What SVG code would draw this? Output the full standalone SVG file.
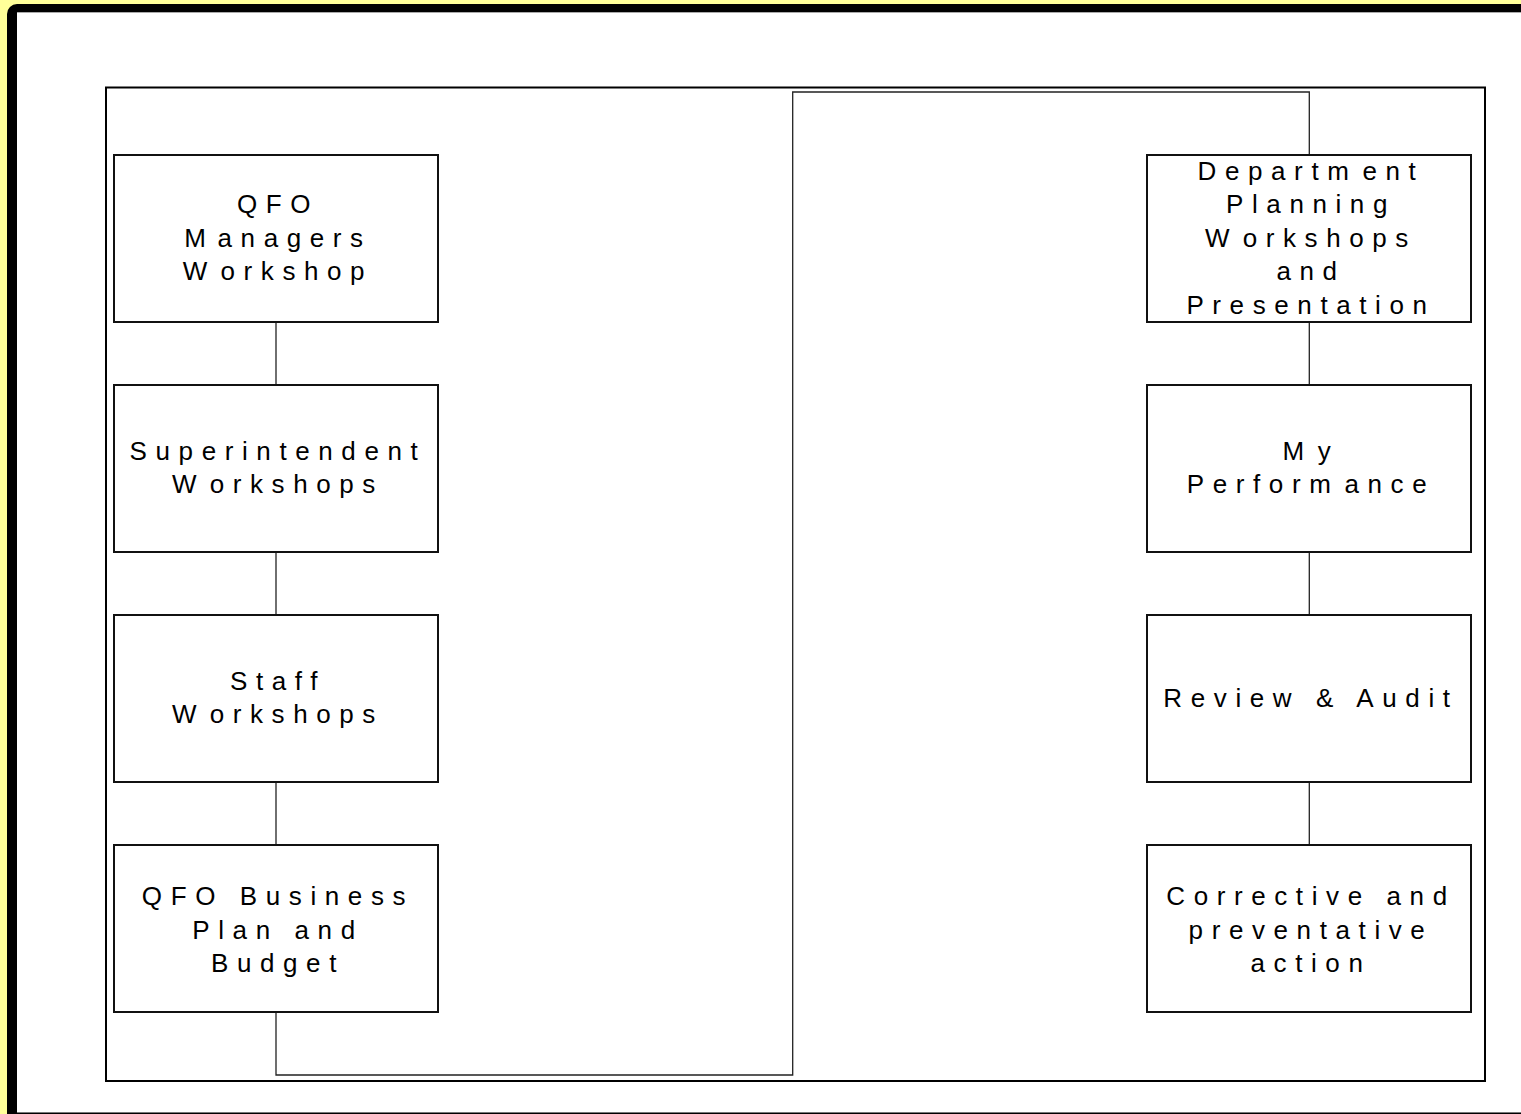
<svg xmlns="http://www.w3.org/2000/svg" width="1521" height="1114" viewBox="0 0 1521 1114">
<style>
.box{fill:#fff;stroke:#111;stroke-width:2}
.lbl{font-family:"Liberation Sans",Arial,sans-serif;font-size:26px;letter-spacing:8.6px;fill:#000;text-anchor:middle}
.conn{fill:none;stroke:#222;stroke-width:1.3}
</style>
<rect x="0" y="0" width="1521" height="1114" fill="#ffff99"/>
<rect x="7" y="4" width="1600" height="1200" rx="10" fill="#000"/>
<rect x="17" y="12" width="1510" height="1100" fill="#fff"/>
<line x1="17" y1="12.5" x2="1521" y2="12.5" stroke="#aaa" stroke-width="1"/>
<line x1="17" y1="1112.5" x2="1521" y2="1112.5" stroke="#777" stroke-width="1.2"/>
<rect x="106" y="87.5" width="1379" height="993.5" fill="none" stroke="#000" stroke-width="2"/>
<g id="connectors">
<path class="conn" d="M276 1012 V1075 H792.7 V92 H1309.3 V155"/>
<line class="conn" x1="276" y1="322" x2="276" y2="385"/>
<line class="conn" x1="276" y1="552" x2="276" y2="615"/>
<line class="conn" x1="276" y1="782" x2="276" y2="845"/>
<line class="conn" x1="1309.3" y1="322" x2="1309.3" y2="385"/>
<line class="conn" x1="1309.3" y1="552" x2="1309.3" y2="615"/>
<line class="conn" x1="1309.3" y1="782" x2="1309.3" y2="845"/>
</g>
<g id="n1">
<rect class="box" x="114" y="155" width="324" height="167"/>
<text class="lbl" x="278" y="213">QFO</text>
<text class="lbl" x="278" y="246.5"><tspan>M</tspan><tspan dx="3">anagers</tspan></text>
<text class="lbl" x="278" y="280"><tspan>W</tspan><tspan dx="5">orkshop</tspan></text>
</g>
<g id="n2">
<rect class="box" x="114" y="385" width="324" height="167"/>
<text class="lbl" x="278" y="459.8">Superintendent</text>
<text class="lbl" x="278" y="493.3"><tspan>W</tspan><tspan dx="5">orkshops</tspan></text>
</g>
<g id="n3">
<rect class="box" x="114" y="615" width="324" height="167"/>
<text class="lbl" x="278" y="689.8">Staff</text>
<text class="lbl" x="278" y="723.3"><tspan>W</tspan><tspan dx="5">orkshops</tspan></text>
</g>
<g id="n4">
<rect class="box" x="114" y="845" width="324" height="167"/>
<text class="lbl" x="278" y="905">QFO Business</text>
<text class="lbl" x="278" y="938.5">Plan and</text>
<text class="lbl" x="278" y="972">Budget</text>
</g>
<g id="n5">
<rect class="box" x="1147" y="155" width="324" height="167"/>
<text class="lbl" x="1311" y="179.5"><tspan>Departm</tspan><tspan dx="5">ent</tspan></text>
<text class="lbl" x="1311" y="213">Planning</text>
<text class="lbl" x="1311" y="246.5"><tspan>W</tspan><tspan dx="5">orkshops</tspan></text>
<text class="lbl" x="1311" y="280">and</text>
<text class="lbl" x="1311" y="313.5">Presentation</text>
</g>
<g id="n6">
<rect class="box" x="1147" y="385" width="324" height="167"/>
<text class="lbl" x="1311" y="459.8"><tspan>M</tspan><tspan dx="5">y</tspan></text>
<text class="lbl" x="1311" y="493.3"><tspan>Perform</tspan><tspan dx="5">ance</tspan></text>
</g>
<g id="n7">
<rect class="box" x="1147" y="615" width="324" height="167"/>
<text class="lbl" x="1311" y="706.5">Review &amp; Audit</text>
</g>
<g id="n8">
<rect class="box" x="1147" y="845" width="324" height="167"/>
<text class="lbl" x="1311" y="905">Corrective and</text>
<text class="lbl" x="1311" y="938.5">preventative</text>
<text class="lbl" x="1311" y="972">action</text>
</g>
</svg>
